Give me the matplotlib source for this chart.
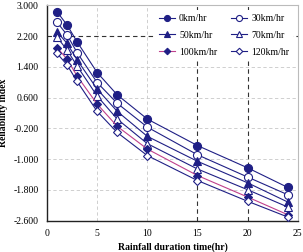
import matplotlib.pyplot as plt

# Data
hours = [1, 2, 3, 5, 7, 10, 15, 20, 24]
speed_labels = ['0km/hr', '30km/hr', '50km/hr', '70km/hr', '100km/hr', '120km/hr']
v0 = [2.83, 2.49, 2.05, 1.25, 0.67, 0.04, -0.65, -1.23, -1.74]
v30 = [2.56, 2.23, 1.77, 0.99, 0.45, -0.17, -0.89, -1.47, -1.93]
v50 = [2.31, 2.01, 1.58, 0.82, 0.24, -0.41, -1.06, -1.62, -2.12]
v70 = [2.17, 1.84, 1.42, 0.64, 0.04, -0.60, -1.26, -1.80, -2.25]
v100 = [1.90, 1.60, 1.16, 0.43, -0.15, -0.74, -1.43, -1.99, -2.45]
v120 = [1.75, 1.45, 1.02, 0.24, -0.31, -0.91, -1.56, -2.10, -2.51]
x_ticks = [0, 5, 10, 15, 20, 25]
y_ticks = [3.0, 2.2, 1.4, 0.6, -0.2, -1.0, -1.8, -2.6]

plt.rcParams['font.family'] = ['Liberation Serif', 'DejaVu Serif']

navy = '#1f1f85'
pink = '#c0408c'

fig = plt.figure(figsize=(3.03, 2.52), dpi=100)
ax = fig.add_axes([0.155, 0.125, 0.828, 0.854])

# grid and reference lines
for xv in [5, 10]:
    ax.axvline(xv, color='#c8c8c8', linestyle=(0, (4, 3)), linewidth=0.6, zorder=0)
for yv in [1.4, 0.6, -0.2, -1.0, -1.8]:
    ax.axhline(yv, color='#c8c8c8', linestyle=(0, (4, 3)), linewidth=0.6, zorder=0)
for xv in [15, 20]:
    ax.axvline(xv, color='#333333', linestyle=(0, (4, 3)), linewidth=0.8, zorder=0)
ax.axhline(2.2, color='#333333', linestyle=(0, (4, 3)), linewidth=0.8, zorder=0)

series = [v0, v30, v50, v70, v100, v120]
markers = ['o', 'o', '^', '^', 'D', 'D']
filled = [True, False, True, False, True, False]
sizes = [5.8, 5.8, 5.8, 5.8, 4.4, 4.4]
lines = []
for vals, lab, m, f, s in zip(series, speed_labels, markers, filled, sizes):
    lc = pink if lab == '100km/hr' else navy
    ln, = ax.plot(hours, vals, color=lc, linewidth=0.8, marker=m, markersize=s,
                  markerfacecolor=navy if f else 'white', markeredgecolor=navy,
                  markeredgewidth=0.8, label=lab, zorder=3)
    lines.append(ln)

ax.set_xlim(0, 25)
ax.set_ylim(-2.6, 3.0)
ax.set_xticks(x_ticks)
ax.set_yticks(y_ticks)
ax.set_yticklabels(['%.3f' % v for v in y_ticks])
ax.tick_params(length=0, labelsize=7, pad=6)

for side in ['top', 'right']:
    ax.spines[side].set_color('#bbbbbb')
    ax.spines[side].set_linewidth(0.8)
for side in ['left', 'bottom']:
    ax.spines[side].set_color('#222222')
    ax.spines[side].set_linewidth(1.0)

ax.set_xlabel('Rainfall duration time(hr)', fontsize=7, fontweight='bold', labelpad=3)
ax.set_ylabel('Reliability index', fontsize=7, fontweight='bold', labelpad=4)

# legend filled row by row: 0/30, 50/70, 100/120
order = [0, 2, 4, 1, 3, 5]
leg = ax.legend([lines[i] for i in order], [speed_labels[i] for i in order],
                ncol=2, loc='upper right', fontsize=7, frameon=True,
                fancybox=False, edgecolor='none', framealpha=1,
                handlelength=1.7, columnspacing=1.4, labelspacing=0.8,
                borderpad=0.4, handletextpad=0.4, markerscale=0.75)
leg.get_frame().set_linewidth(0)

fig.savefig('out.png', dpi=100)
